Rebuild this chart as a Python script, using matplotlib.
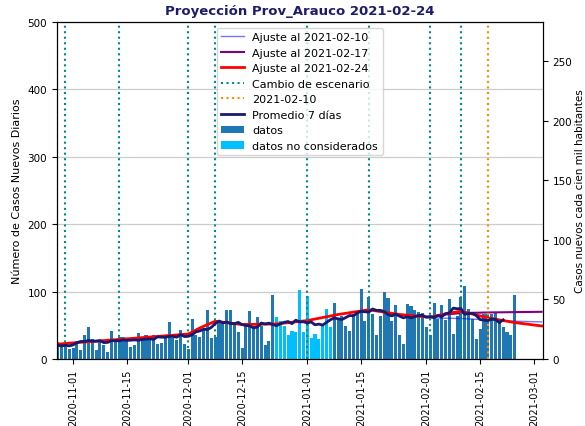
import numpy as np
import pandas as pd
import matplotlib
matplotlib.use("Agg")
import matplotlib.pyplot as plt
import matplotlib.dates as mdates

# casos diarios desde 2020-10-28 hasta 2021-02-24
fechas = pd.date_range('2020-10-28', '2021-02-24')
casos = [
    25, 23, 18, 15, 16, 25, 14, 35, 47, 30,
    14, 27, 20, 11, 42, 26, 32, 32, 27, 18,
    20, 38, 28, 35, 28, 35, 22, 23, 32, 55,
    31, 28, 43, 22, 15, 59, 35, 33, 45, 73,
    31, 32, 57, 57, 72, 72, 54, 40, 17, 54,
    71, 49, 63, 49, 20, 26, 95, 62, 57, 49,
    36, 42, 40, 103, 40, 93, 31, 37, 30, 50,
    74, 47, 83, 59, 64, 49, 41, 67, 67, 104,
    57, 92, 67, 36, 64, 99, 90, 57, 80, 35,
    22, 82, 79, 72, 69, 68, 47, 35, 83, 59,
    80, 58, 89, 37, 64, 92, 108, 74, 59, 30,
    45, 67, 67, 67, 69, 53, 47, 40, 35, 95,
]
no_cons_ini = '2020-12-24'
no_cons_fin = '2021-01-07'

cambios = ['2020-10-30', '2020-11-13', '2020-12-01', '2020-12-08',
           '2021-01-01', '2021-01-17', '2021-02-02', '2021-02-10']
fecha_naranja = '2021-02-17'

# curvas de ajuste
aj24_fechas = ['2020-10-28', '2020-10-30', '2020-11-13', '2020-12-01', '2020-12-04',
               '2020-12-08', '2020-12-15', '2020-12-24', '2021-01-01', '2021-01-09',
               '2021-01-17', '2021-01-25', '2021-02-02', '2021-02-06', '2021-02-10',
               '2021-02-17', '2021-02-24', '2021-03-03']
aj24_vals = [22, 23, 29, 37, 46, 56, 51, 52, 57, 66, 73, 66, 62, 67, 71, 61, 54, 49]

aj17_fechas = ['2021-02-02', '2021-02-06', '2021-02-10', '2021-02-17', '2021-03-03']
aj17_vals = [62, 66, 68, 69, 70]

aj10_fechas = ['2021-02-02', '2021-02-10', '2021-02-17', '2021-02-24', '2021-03-03']
aj10_vals = [61, 60, 58, 56, 55]

poblacion = 176800

serie = pd.Series(casos, index=fechas)
prom7 = serie.rolling(7, center=True, min_periods=4).mean().iloc[:-3]

mask = (fechas >= no_cons_ini) & (fechas <= no_cons_fin)

fig, ax = plt.subplots(figsize=(5.85, 4.27), dpi=100)
fig.subplots_adjust(left=0.097, right=0.928, bottom=0.157, top=0.946)

ax.plot(pd.to_datetime(aj10_fechas), aj10_vals, color='blue', alpha=0.55, lw=1,
        label='Ajuste al 2021-02-10')
ax.plot(pd.to_datetime(aj17_fechas), aj17_vals, color='purple', lw=1.5,
        label='Ajuste al 2021-02-17')
ax.plot(pd.to_datetime(aj24_fechas), aj24_vals, color='red', lw=2,
        label='Ajuste al 2021-02-24')
for k, c in enumerate(cambios):
    ax.axvline(pd.Timestamp(c), color='darkcyan', ls=':', lw=1.5,
               label='Cambio de escenario' if k == 0 else None)
ax.axvline(pd.Timestamp(fecha_naranja), color='darkorange', ls=':', lw=1.5,
           label='2021-02-10')
ax.plot(prom7.index, prom7.values, color='midnightblue', lw=2, label='Promedio 7 días')
ax.bar(fechas[~mask], serie[~mask], width=0.8, color='#1f77b4', label='datos')
ax.bar(fechas[mask], serie[mask], width=0.8, color='#00bfff', label='datos no considerados')

ax.set_ylim(0, 500)
ax.set_xlim(pd.Timestamp('2020-10-27 18:00'), pd.Timestamp('2021-03-03 08:00'))
ticks = pd.to_datetime(['2020-11-01', '2020-11-15', '2020-12-01', '2020-12-15',
                        '2021-01-01', '2021-01-15', '2021-02-01', '2021-02-15',
                        '2021-03-01'])
ax.set_xticks(ticks)
ax.xaxis.set_major_formatter(mdates.DateFormatter('%Y-%m-%d'))
plt.setp(ax.get_xticklabels(), rotation=90, fontsize=7)
ax.tick_params(axis='y', labelsize=7.5)
ax.grid(axis='y', color='#cccccc', lw=0.9)
ax.set_axisbelow(True)
ax.set_ylabel('Número de Casos Nuevos Diarios', fontsize=8)
ax.set_title('Proyección Prov_Arauco 2021-02-24', fontsize=9.5, fontweight='bold',
             color='#1c1c6b')
ax.legend(loc='upper center', fontsize=8, framealpha=0.8)

ax2 = ax.twinx()
ax2.set_ylim(0, 500 * 100000 / poblacion)
ax2.set_yticks([0, 50, 100, 150, 200, 250])
ax2.tick_params(axis='y', labelsize=7.5)
ax2.set_ylabel('Casos nuevos cada cien mil habitantes', fontsize=7.5, labelpad=2)

fig.savefig('out.png', dpi=100)
